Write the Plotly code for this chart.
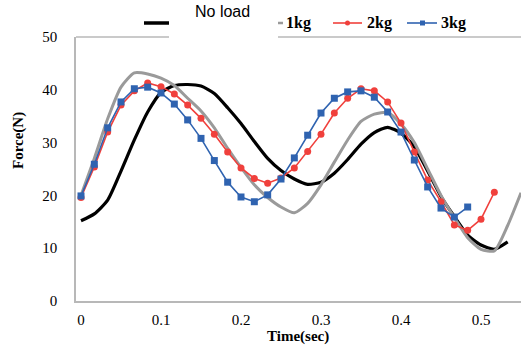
import plotly.graph_objects as go

dt = 1 / 60
no_load = [15.2, 16.5, 19.1, 24.6, 30.5, 35.8, 39.5, 40.8, 41.0, 40.7, 39.3, 36.6,
           33.6, 30.2, 27.0, 24.7, 23.1, 22.1, 22.5, 24.2, 26.8, 29.7, 31.9, 32.9,
           31.8, 29.2, 24.6, 19.8, 16.0, 12.5, 10.6, 9.8, 11.2]
kg1 = [20.0, 27.0, 34.5, 40.5, 43.2, 43.0, 42.2, 40.8, 38.4, 36.0, 32.8, 28.9,
       25.3, 22.0, 19.6, 17.8, 16.7, 18.5, 22.0, 26.3, 30.5, 34.0, 35.4, 35.7,
       33.5, 30.0, 25.0, 20.0, 15.8, 12.0, 9.8, 9.5, 14.3, 20.5]
kg2 = [19.6, 25.4, 32.0, 37.1, 39.8, 41.3, 40.6, 39.2, 37.1, 34.6, 31.6, 28.2,
       25.2, 23.2, 22.3, 23.3, 25.2, 28.3, 31.6, 35.6, 38.4, 40.2, 39.8, 37.7,
       33.7, 28.2, 22.9, 18.8, 14.4, 13.4, 15.5, 20.6]
kg3 = [19.9, 25.9, 32.8, 37.7, 40.2, 40.5, 39.4, 37.3, 34.3, 30.8, 26.6, 22.5,
       19.7, 18.8, 20.1, 23.1, 27.1, 31.4, 35.6, 38.4, 39.6, 39.8, 38.6, 35.8,
       32.0, 26.7, 21.6, 17.6, 15.9, 17.8]

x_ticks = [0, 0.1, 0.2, 0.3, 0.4, 0.5]
x_labels = ["0", "0.1", "0.2", "0.3", "0.4", "0.5"]
y_ticks = [0, 10, 20, 30, 40, 50]

RED = "#f0403c"
BLUE = "#2f63b0"
GRAY = "#9a9a9a"

def t(vals):
    return [i * dt for i in range(len(vals))]

fig = go.Figure()
fig.add_trace(go.Scatter(x=t(no_load), y=no_load, mode="lines", name="No load",
                         line=dict(color="black", width=3.2, shape="spline", smoothing=0.6)))
fig.add_trace(go.Scatter(x=t(kg1), y=kg1, mode="lines", name="1kg",
                         line=dict(color=GRAY, width=3, shape="spline", smoothing=0.6)))
fig.add_trace(go.Scatter(x=t(kg2), y=kg2, mode="lines+markers", name="2kg",
                         line=dict(color=RED, width=1.6),
                         marker=dict(symbol="circle", size=7, color=RED)))
fig.add_trace(go.Scatter(x=t(kg3), y=kg3, mode="lines+markers", name="3kg",
                         line=dict(color=BLUE, width=1.6),
                         marker=dict(symbol="square", size=7, color=BLUE)))

W, H = 521, 353
L, R, T, B = 76, 0, 37, 52
pw, ph = W - L - R, H - T - B

def px(xp):
    return (xp - L) / pw

def py(yp):
    return (H - B - yp) / ph

serif = "Liberation Serif"
shapes = [
    dict(type="line", xref="paper", yref="paper", x0=0, x1=px(169), y0=1, y1=1,
         line=dict(color="#b8b8b8", width=1.5)),
    dict(type="line", xref="paper", yref="paper", x0=px(278), x1=1, y0=1, y1=1,
         line=dict(color="#b8b8b8", width=1.5)),
    # legend samples
    dict(type="line", xref="paper", yref="paper", x0=px(144), x1=px(169), y0=py(23), y1=py(23),
         line=dict(color="black", width=3.5)),
    dict(type="line", xref="paper", yref="paper", x0=px(278), x1=px(283), y0=py(23), y1=py(23),
         line=dict(color=GRAY, width=2.5)),
    dict(type="line", xref="paper", yref="paper", x0=px(333), x1=px(362), y0=py(23), y1=py(23),
         line=dict(color=RED, width=1.6)),
    dict(type="circle", xref="paper", yref="paper", x0=px(345), x1=px(350), y0=py(25.5), y1=py(20.5),
         fillcolor=RED, line=dict(color=RED, width=0)),
    dict(type="line", xref="paper", yref="paper", x0=px(407), x1=px(437), y0=py(23), y1=py(23),
         line=dict(color=BLUE, width=1.6)),
    dict(type="rect", xref="paper", yref="paper", x0=px(420), x1=px(425), y0=py(25.5), y1=py(20.5),
         fillcolor=BLUE, line=dict(color=BLUE, width=0)),
]

annotations = [
    dict(text="No load", xref="paper", yref="paper", x=px(222), y=py(12), showarrow=False,
         xanchor="center", yanchor="middle", font=dict(family="Liberation Sans", size=16, color="black")),
    dict(text="<b>1kg</b>", xref="paper", yref="paper", x=px(284), y=py(23), showarrow=False,
         xanchor="left", yanchor="middle", font=dict(family=serif, size=16, color="black")),
    dict(text="<b>2kg</b>", xref="paper", yref="paper", x=px(365), y=py(23), showarrow=False,
         xanchor="left", yanchor="middle", font=dict(family=serif, size=16, color="black")),
    dict(text="<b>3kg</b>", xref="paper", yref="paper", x=px(439), y=py(23), showarrow=False,
         xanchor="left", yanchor="middle", font=dict(family=serif, size=16, color="black")),
    dict(text="<b>Force(N)</b>", xref="paper", yref="paper", x=px(18), y=py(141), showarrow=False,
         textangle=-90, xanchor="center", yanchor="middle",
         font=dict(family=serif, size=15, color="black")),
    dict(text="<b>Time(sec)</b>", xref="paper", yref="paper", x=px(298), y=py(337), showarrow=False,
         xanchor="center", yanchor="middle", font=dict(family=serif, size=15, color="black")),
]

fig.update_layout(
    width=W, height=H,
    margin=dict(l=L, r=R, t=T, b=B, pad=0),
    paper_bgcolor="white", plot_bgcolor="white",
    showlegend=False,
    shapes=shapes, annotations=annotations,
    xaxis=dict(range=[-0.00625, 0.55], tickvals=x_ticks, ticktext=x_labels, automargin=False,
               showgrid=False, zeroline=False, showline=True, linecolor="#b8b8b8", linewidth=1.5,
               ticks="", ticklabelstandoff=4,
               tickfont=dict(family=serif, size=15, color="black"), tickprefix="<b>", ticksuffix="</b>"),
    yaxis=dict(range=[0, 50], tickvals=y_ticks, automargin=False,
               showgrid=False, zeroline=False, showline=True, linecolor="#b8b8b8", linewidth=1.5,
               ticks="", ticklabelstandoff=14,
               tickfont=dict(family=serif, size=15, color="black"), tickprefix="<b>", ticksuffix="</b>"),
)

fig.write_html("out.html", config={"displayModeBar": False},
               post_script="document.body.style.margin='0';document.body.style.overflow='hidden';")
